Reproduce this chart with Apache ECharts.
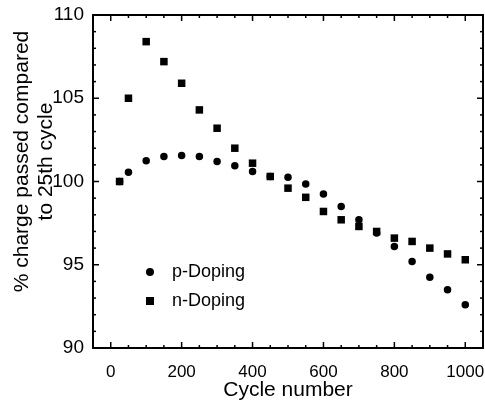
<!DOCTYPE html>
<html>
<head>
<meta charset="utf-8">
<script src="https://cdn.jsdelivr.net/npm/echarts@6/dist/echarts.min.js"></script>
<style>
html,body{margin:0;padding:0;background:#fff;}
#chart{width:485px;height:400px;}
</style>
</head>
<body>
<div id="chart"></div>
<script>
// Data
var cycles = [25, 50, 100, 150, 200, 250, 300, 350, 400, 450, 500, 550, 600, 650, 700, 750, 800, 850, 900, 950, 1000];
var pDoping = [100.0, 100.55, 101.25, 101.5, 101.56, 101.5, 101.2, 100.95, 100.6, 100.3, 100.25, 99.85, 99.25, 98.5, 97.7, 96.9, 96.1, 95.2, 94.25, 93.5, 92.6];
var nDoping = [100.0, 105.0, 108.4, 107.2, 105.9, 104.3, 103.2, 102.0, 101.1, 100.3, 99.6, 99.05, 98.2, 97.7, 97.3, 97.0, 96.6, 96.4, 96.0, 95.65, 95.3];
var seriesNames = ['p-Doping', 'n-Doping'];
// Tick labels and tick marks
var xTickLabels = [0, 200, 400, 600, 800, 1000];
var xMinorTicks = [-50, 50, 100, 150, 250, 300, 350, 450, 500, 550, 650, 700, 750, 850, 900, 950, 1050];
var yTickLabels = [90, 95, 100, 105, 110];
var yMinorTicks = [91, 92, 93, 94, 96, 97, 98, 99, 101, 102, 103, 104, 106, 107, 108, 109];
var xRange = [-50, 1050];
var yRange = [90, 110];

function pairs(xs, ys) { return xs.map(function (x, i) { return [x, ys[i]]; }); }

var FONT = '"Liberation Sans", Arial, Helvetica, sans-serif';
var LINE = { color: '#000', width: 2 };
var MAJOR_LEN = 6, MINOR_LEN = 3;
var chart = echarts.init(document.getElementById('chart'));

// Inward tick marks on all four sides, placed through the axes' own scales
function tickSeries(values, len, isX) {
  return {
    type: 'custom', silent: true, z: 3, clip: false,
    data: values.map(function (v) { return [isX ? v : xRange[0], isX ? yRange[0] : v]; }),
    renderItem: function (params, api) {
      var style = { stroke: '#000', lineWidth: 1.5 };
      var a, b;
      if (isX) {
        var v = api.value(0);
        a = api.coord([v, yRange[0]]);
        b = api.coord([v, yRange[1]]);
        return { type: 'group', children: [
          { type: 'line', shape: { x1: a[0], y1: a[1], x2: a[0], y2: a[1] - len }, style: style },
          { type: 'line', shape: { x1: b[0], y1: b[1], x2: b[0], y2: b[1] + len }, style: style }
        ] };
      }
      var w = api.value(1);
      a = api.coord([xRange[0], w]);
      b = api.coord([xRange[1], w]);
      return { type: 'group', children: [
        { type: 'line', shape: { x1: a[0], y1: a[1], x2: a[0] + len, y2: a[1] }, style: style },
        { type: 'line', shape: { x1: b[0], y1: b[1], x2: b[0] - len, y2: b[1] }, style: style }
      ] };
    }
  };
}

chart.setOption({
  backgroundColor: '#fff',
  animation: false,
  grid: { left: 93, right: 2, top: 15, bottom: 52, outerBoundsMode: 'none' },
  xAxis: [{
    type: 'value', position: 'bottom', min: xRange[0], max: xRange[1],
    axisLine: { show: true, onZero: false, lineStyle: LINE },
    axisTick: { show: false },
    axisLabel: { show: true, customValues: xTickLabels, color: '#000', fontSize: 17, fontFamily: FONT, margin: 16,
      formatter: function (v) { return String(v); } },
    splitLine: { show: false },
    name: 'Cycle number', nameLocation: 'middle', nameGap: 32, nameMoveOverlap: false,
    nameTextStyle: { color: '#000', fontSize: 21, fontFamily: FONT }
  }, {
    type: 'value', position: 'top', min: xRange[0], max: xRange[1],
    axisLine: { show: true, onZero: false, lineStyle: LINE },
    axisTick: { show: false }, axisLabel: { show: false }, splitLine: { show: false }
  }],
  yAxis: [{
    type: 'value', position: 'left', min: yRange[0], max: yRange[1], interval: 5,
    axisLine: { show: true, onZero: false, lineStyle: LINE },
    axisTick: { show: false },
    axisLabel: { show: true, color: '#000', fontSize: 19, fontFamily: FONT, margin: 9,
      formatter: function (v) { return String(v); } },
    splitLine: { show: false },
    name: '% charge passed compared\nto 25th cycle', nameLocation: 'middle', nameGap: 35, nameRotate: 90, nameMoveOverlap: false,
    nameTextStyle: { color: '#000', fontSize: 21, fontFamily: FONT, lineHeight: 24, padding: [0, 0, 0, 40] }
  }, {
    type: 'value', position: 'right', min: yRange[0], max: yRange[1], interval: 5,
    axisLine: { show: true, onZero: false, lineStyle: LINE },
    axisTick: { show: false }, axisLabel: { show: false }, splitLine: { show: false }
  }],
  legend: {
    orient: 'vertical', left: 141, top: 257,
    itemWidth: 8, itemHeight: 8, itemGap: 9,
    data: seriesNames,
    textStyle: { color: '#000', fontSize: 18, fontFamily: FONT, lineHeight: 20, padding: [0, 0, 0, 13] }
  },
  series: [
    { name: seriesNames[0], type: 'scatter', symbol: 'circle', symbolSize: 7.5, data: pairs(cycles, pDoping), itemStyle: { color: '#000', opacity: 1 } },
    { name: seriesNames[1], type: 'scatter', symbol: 'rect', symbolSize: 7.5, data: pairs(cycles, nDoping), itemStyle: { color: '#000', opacity: 1 } },
    tickSeries(xTickLabels, MAJOR_LEN, true),
    tickSeries(xMinorTicks, MINOR_LEN, true),
    tickSeries(yTickLabels, MAJOR_LEN, false),
    tickSeries(yMinorTicks, MINOR_LEN, false)
  ]
});
</script>
</body>
</html>
